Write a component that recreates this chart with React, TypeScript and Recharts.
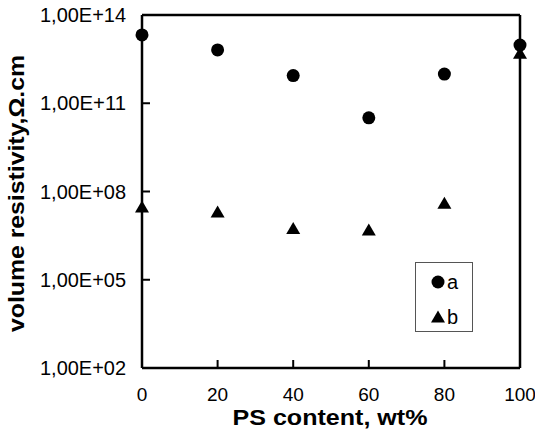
import React from 'react';
import {
    ScatterChart,
    Scatter,
    XAxis,
    YAxis,
    ReferenceLine
} from 'recharts';

// PS content (wt%) on the x axis
const psContent = [0, 20, 40, 60, 80, 100];
// volume resistivity
const seriesA = [2.1e13, 6.5e12, 8.7e11, 3.2e10, 9.8e11, 9.5e12];
const seriesB = [3.0e7, 2.0e7, 5.5e6, 4.9e6, 4.0e7, 5.0e12];
const seriesNames = ['a', 'b'];
const xTicks = [0, 20, 40, 60, 80, 100];
const yTicks = [1e2, 1e5, 1e8, 1e11, 1e14];
const yTickLabels = ['1,00E+02', '1,00E+05', '1,00E+08', '1,00E+11', '1,00E+14'];

const FONT = '"Liberation Sans", Arial, sans-serif';

const dataA = psContent.map((x, i) => ({ x, y: seriesA[i] }));
const dataB = psContent.map((x, i) => ({ x, y: seriesB[i] }));

const CircleShape = (props: any) => {
    const { cx, cy } = props;
    return <circle cx={cx} cy={cy} r={6.5} fill="#000" />;
};

const TriangleShape = (props: any) => {
    const { cx, cy } = props;
    return <polygon points={`${cx},${cy - 6.5} ${cx + 7},${cy + 5.5} ${cx - 7},${cy + 5.5}`} fill="#000" />;
};

const YTick = (props: any) => {
    const { x, y, payload } = props;
    const idx = yTicks.indexOf(payload.value);
    const axisX = x + 16;
    return (
        <g>
            <line x1={axisX} y1={y} x2={axisX + 8} y2={y} stroke="#000" strokeWidth={2} />
            <text x={x} y={y + 7} textAnchor="end" fontFamily={FONT} fontSize={20} fill="#000"
                textLength={86} lengthAdjust="spacingAndGlyphs">
                {idx >= 0 ? yTickLabels[idx] : ''}
            </text>
        </g>
    );
};

const XTick = (props: any) => {
    const { x, y, payload } = props;
    return (
        <g>
            <line x1={x} y1={y} x2={x} y2={y - 8} stroke="#000" strokeWidth={2} />
            <text x={x} y={y + 33} textAnchor="middle" fontFamily={FONT} fontSize={19} fill="#000">
                {payload.value}
            </text>
        </g>
    );
};

// legend box drawn by hand, sits inside the plot at lower right
const LegendBox = () => (
    <div style={{ position: 'absolute', left: 415, top: 262, width: 58, height: 70, border: '1px solid #555', background: '#fff', boxSizing: 'border-box' }}>
        <svg width={56} height={68} style={{ display: 'block' }}>
            <circle cx={22} cy={19} r={6.5} fill="#000" />
            <text x={31} y={26} fontFamily={FONT} fontSize={20} fill="#000">{seriesNames[0]}</text>
            <polygon points="22,47.5 29,59.5 15,59.5" fill="#000" />
            <text x={31} y={61} fontFamily={FONT} fontSize={20} fill="#000">{seriesNames[1]}</text>
        </svg>
    </div>
);

export default function App() {
    return (
        <div style={{ position: 'absolute', left: 0, top: 0, width: 535, height: 434, background: '#fff' }}>
            <ScatterChart width={535} height={434} margin={{ top: 15, right: 15, bottom: 0, left: 0 }}>
                <XAxis
                    type="number"
                    dataKey="x"
                    domain={[0, 100]}
                    ticks={xTicks}
                    height={66}
                    tickSize={0}
                    tickMargin={0}
                    tickLine={false}
                    tick={<XTick />}
                    axisLine={{ stroke: '#000', strokeWidth: 2.5 }}
                    label={(p: any) => {
                        const vb = p.viewBox;
                        return (
                            <text x={vb.x + vb.width / 2 - 1} y={vb.y + 57} textAnchor="middle" fontFamily={FONT}
                                fontSize={22} fontWeight="bold" fill="#000" textLength={195} lengthAdjust="spacingAndGlyphs">
                                PS content, wt%
                            </text>
                        );
                    }}
                />
                <YAxis
                    type="number"
                    dataKey="y"
                    scale="log"
                    domain={[1e2, 1e14]}
                    ticks={yTicks}
                    allowDataOverflow
                    width={142}
                    tickSize={0}
                    tickMargin={16}
                    tickLine={false}
                    tick={<YTick />}
                    axisLine={{ stroke: '#000', strokeWidth: 2.5 }}
                    label={() => (
                        <text x={24} y={193.5} transform="rotate(-90 24 193.5)" textAnchor="middle" fontFamily={FONT}
                            fontSize={22} fontWeight="bold" fill="#000" textLength={277} lengthAdjust="spacingAndGlyphs">
                            volume resistivity,Ω.cm
                        </text>
                    )}
                />
                <ReferenceLine y={1e14} stroke="#000" strokeWidth={2.5} />
                <ReferenceLine x={100} stroke="#000" strokeWidth={2.5} />
                <Scatter name={seriesNames[0]} data={dataA} shape={CircleShape} isAnimationActive={false} />
                <Scatter name={seriesNames[1]} data={dataB} shape={TriangleShape} isAnimationActive={false} />
            </ScatterChart>
            <LegendBox />
        </div>
    );
}
